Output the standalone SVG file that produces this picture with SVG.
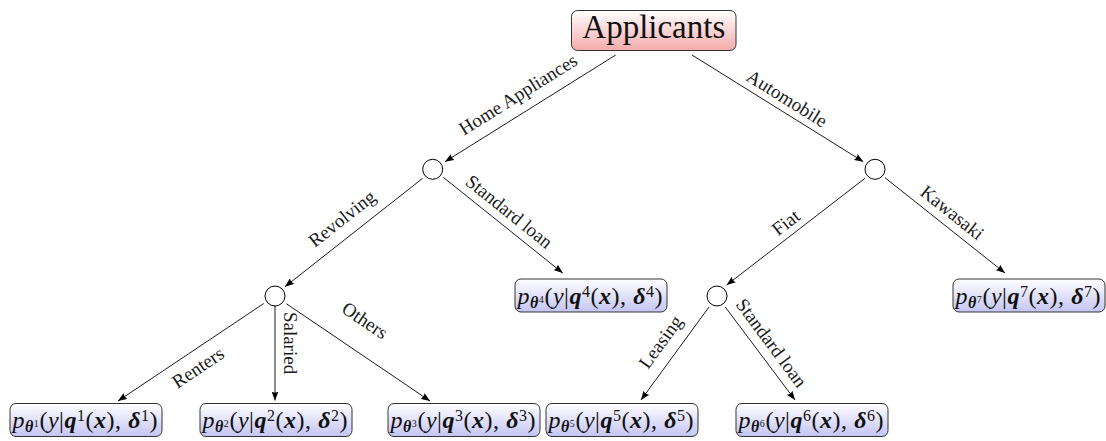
<svg xmlns="http://www.w3.org/2000/svg" width="1106" height="441" viewBox="0 0 1106 441">
<defs>
<linearGradient id="gRed" x1="0" y1="0" x2="0" y2="1"><stop offset="0" stop-color="#ffffff"/><stop offset="1" stop-color="#f5aaaa"/></linearGradient>
<linearGradient id="gBlue" x1="0" y1="0" x2="0" y2="1"><stop offset="0" stop-color="#ffffff"/><stop offset="1" stop-color="#c4c4f4"/></linearGradient>
<marker id="arr" viewBox="0 0 9 7" refX="9" refY="3.5" markerWidth="9" markerHeight="7" markerUnits="userSpaceOnUse" orient="auto"><path d="M0,0 L9,3.5 L0,7 Q2,3.5 0,0z" fill="#000"/></marker>
</defs>
<style>
.box{stroke:#333;stroke-width:1}
.leaf{fill:url(#gBlue)}
.circ{fill:#fff;stroke:#000;stroke-width:1}
.edge{stroke:#000;stroke-width:0.9;fill:none;marker-end:url(#arr)}
.lbl{font-family:"Liberation Serif",serif;font-size:19px;fill:#1a1a1a;text-anchor:middle}
.m{font-family:"Liberation Serif",serif;font-size:24px;fill:#111}
.i{font-style:italic}
.bi{font-style:italic;font-weight:bold}
</style>
<rect width="1106" height="441" fill="#fff"/>
<g id="connectors">
<line class="edge" x1="615.7" y1="55" x2="445" y2="161.7"/>
<line class="edge" x1="692" y1="55" x2="863.3" y2="161.7"/>
<line class="edge" x1="422.7" y1="178.3" x2="285" y2="286.7"/>
<line class="edge" x1="443.3" y1="177.3" x2="562.7" y2="273"/>
<line class="edge" x1="865" y1="178.3" x2="726.7" y2="285"/>
<line class="edge" x1="885" y1="177.7" x2="1005" y2="273"/>
<line class="edge" x1="263.8" y1="303.5" x2="118" y2="401"/>
<line class="edge" x1="275" y1="306" x2="275" y2="400.5"/>
<line class="edge" x1="286.2" y1="303.6" x2="430" y2="401"/>
<line class="edge" x1="709" y1="307" x2="641" y2="400"/>
<line class="edge" x1="725.1" y1="306.8" x2="795" y2="400"/>
<text class="lbl" transform="translate(519,96) rotate(-32.1)" y="4.5">Home Appliances</text>
<text class="lbl" transform="translate(786,100) rotate(32)" y="4.5">Automobile</text>
<text class="lbl" transform="translate(343,220) rotate(-38.2)" y="4.5">Revolving</text>
<text class="lbl" transform="translate(508,213) rotate(38.7)" y="4.5">Standard loan</text>
<text class="lbl" transform="translate(787,224) rotate(-37.6)" y="4.5">Fiat</text>
<text class="lbl" transform="translate(951,214) rotate(38.5)" y="4.5">Kawasaki</text>
<text class="lbl" transform="translate(199,369) rotate(-33.8)" y="4.5">Renters</text>
<text class="lbl" transform="translate(288,343) rotate(90)" y="4.5">Salaried</text>
<text class="lbl" transform="translate(364,322) rotate(34.1)" y="4.5">Others</text>
<text class="lbl" transform="translate(662,343) rotate(-54)" y="4.5">Leasing</text>
<text class="lbl" transform="translate(770,344) rotate(53.4)" y="4.5">Standard loan</text>
</g>
<g id="applicants">
<rect class="box" x="571.5" y="10.5" width="164.5" height="40" rx="6" fill="url(#gRed)"/>
<text x="653.8" y="37.5" text-anchor="middle" font-family="'Liberation Serif',serif" font-size="33" fill="#111">Applicants</text>
</g>
<g id="split-home"><circle class="circ" cx="432.7" cy="169.3" r="10"/></g>
<g id="split-auto"><circle class="circ" cx="875" cy="169.3" r="10"/></g>
<g id="split-revolving"><circle class="circ" cx="275" cy="296" r="10"/></g>
<g id="split-fiat"><circle class="circ" cx="717" cy="296" r="10"/></g>
<g id="leaf1">
<rect class="box leaf" x="10" y="403.5" width="152" height="33" rx="6"/>
<text class="m" x="12.5" y="428" textLength="145" lengthAdjust="spacing"><tspan class="i">p</tspan><tspan class="bi" font-size="16" dy="4">θ</tspan><tspan font-size="10" dy="-5">1</tspan><tspan dy="1">(</tspan><tspan class="i">y</tspan>|<tspan class="bi">q</tspan><tspan font-size="16" dy="-7">1</tspan><tspan dy="7">(</tspan><tspan class="bi">x</tspan>), <tspan class="bi">δ</tspan><tspan font-size="16" dy="-7">1</tspan><tspan dy="7">)</tspan></text>
</g>
<g id="leaf2">
<rect class="box leaf" x="200" y="403.5" width="152" height="33" rx="6"/>
<text class="m" x="202.5" y="428" textLength="145" lengthAdjust="spacing"><tspan class="i">p</tspan><tspan class="bi" font-size="16" dy="4">θ</tspan><tspan font-size="10" dy="-5">2</tspan><tspan dy="1">(</tspan><tspan class="i">y</tspan>|<tspan class="bi">q</tspan><tspan font-size="16" dy="-7">2</tspan><tspan dy="7">(</tspan><tspan class="bi">x</tspan>), <tspan class="bi">δ</tspan><tspan font-size="16" dy="-7">2</tspan><tspan dy="7">)</tspan></text>
</g>
<g id="leaf3">
<rect class="box leaf" x="388" y="403.5" width="152" height="33" rx="6"/>
<text class="m" x="390.5" y="428" textLength="145" lengthAdjust="spacing"><tspan class="i">p</tspan><tspan class="bi" font-size="16" dy="4">θ</tspan><tspan font-size="10" dy="-5">3</tspan><tspan dy="1">(</tspan><tspan class="i">y</tspan>|<tspan class="bi">q</tspan><tspan font-size="16" dy="-7">3</tspan><tspan dy="7">(</tspan><tspan class="bi">x</tspan>), <tspan class="bi">δ</tspan><tspan font-size="16" dy="-7">3</tspan><tspan dy="7">)</tspan></text>
</g>
<g id="leaf4">
<rect class="box leaf" x="515" y="279" width="152" height="33" rx="6"/>
<text class="m" x="517.5" y="303.5" textLength="145" lengthAdjust="spacing"><tspan class="i">p</tspan><tspan class="bi" font-size="16" dy="4">θ</tspan><tspan font-size="10" dy="-5">4</tspan><tspan dy="1">(</tspan><tspan class="i">y</tspan>|<tspan class="bi">q</tspan><tspan font-size="16" dy="-7">4</tspan><tspan dy="7">(</tspan><tspan class="bi">x</tspan>), <tspan class="bi">δ</tspan><tspan font-size="16" dy="-7">4</tspan><tspan dy="7">)</tspan></text>
</g>
<g id="leaf5">
<rect class="box leaf" x="546" y="403.5" width="152" height="33" rx="6"/>
<text class="m" x="548.5" y="428" textLength="145" lengthAdjust="spacing"><tspan class="i">p</tspan><tspan class="bi" font-size="16" dy="4">θ</tspan><tspan font-size="10" dy="-5">5</tspan><tspan dy="1">(</tspan><tspan class="i">y</tspan>|<tspan class="bi">q</tspan><tspan font-size="16" dy="-7">5</tspan><tspan dy="7">(</tspan><tspan class="bi">x</tspan>), <tspan class="bi">δ</tspan><tspan font-size="16" dy="-7">5</tspan><tspan dy="7">)</tspan></text>
</g>
<g id="leaf6">
<rect class="box leaf" x="736" y="403.5" width="152" height="33" rx="6"/>
<text class="m" x="738.5" y="428" textLength="145" lengthAdjust="spacing"><tspan class="i">p</tspan><tspan class="bi" font-size="16" dy="4">θ</tspan><tspan font-size="10" dy="-5">6</tspan><tspan dy="1">(</tspan><tspan class="i">y</tspan>|<tspan class="bi">q</tspan><tspan font-size="16" dy="-7">6</tspan><tspan dy="7">(</tspan><tspan class="bi">x</tspan>), <tspan class="bi">δ</tspan><tspan font-size="16" dy="-7">6</tspan><tspan dy="7">)</tspan></text>
</g>
<g id="leaf7">
<rect class="box leaf" x="953" y="279" width="152" height="33" rx="6"/>
<text class="m" x="955.5" y="303.5" textLength="145" lengthAdjust="spacing"><tspan class="i">p</tspan><tspan class="bi" font-size="16" dy="4">θ</tspan><tspan font-size="10" dy="-5">7</tspan><tspan dy="1">(</tspan><tspan class="i">y</tspan>|<tspan class="bi">q</tspan><tspan font-size="16" dy="-7">7</tspan><tspan dy="7">(</tspan><tspan class="bi">x</tspan>), <tspan class="bi">δ</tspan><tspan font-size="16" dy="-7">7</tspan><tspan dy="7">)</tspan></text>
</g>
</svg>
